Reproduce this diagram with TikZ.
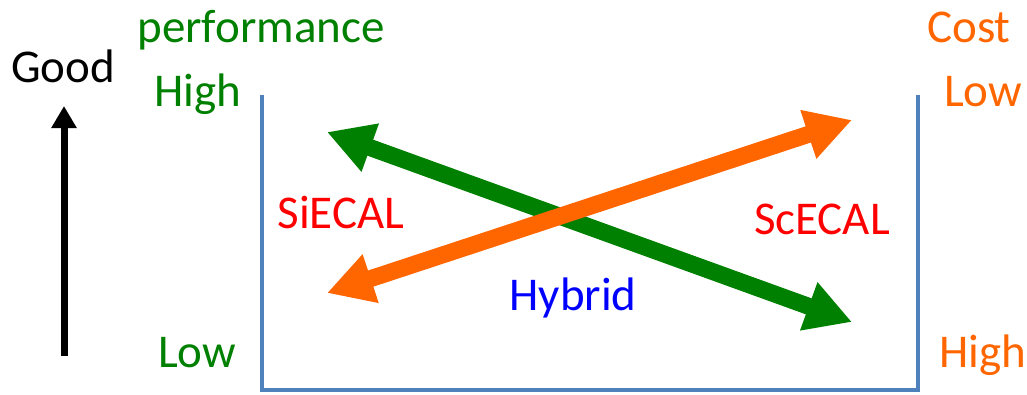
\documentclass[tikz,border=0pt]{standalone}
\usepackage{fontspec}
\setmainfont{Carlito}
\usetikzlibrary{arrows.meta}
\definecolor{pgreen}{RGB}{0,128,0}
\definecolor{porange}{RGB}{255,102,0}
\definecolor{pblue}{RGB}{79,129,189}
\definecolor{pred}{RGB}{255,0,0}
\definecolor{tblue}{RGB}{0,0,255}
\begin{document}
\begin{tikzpicture}[x=1pt,y=-1pt,
  lbl/.style={inner sep=0pt,font=\fontsize{47}{50}\selectfont},
  bigarrow/.style={line width=17pt,{Triangle[width=48pt,length=46pt]}-{Triangle[width=48pt,length=46pt]}},
  frame/.style={draw=pblue,line width=4.5pt}]
\useasboundingbox (0,0) rectangle (1027,394);
% labels
\node[lbl,anchor=base] (good) at (63,82) {Good};
\node[lbl,anchor=base,text=pgreen] (perf) at (261,42) {performance};
\node[lbl,anchor=base,text=pgreen] (hiL) at (198,106) {High};
\node[lbl,anchor=base,text=pgreen] (loL) at (197,367) {Low};
\node[lbl,anchor=base,text=porange] (cost) at (969,42) {Cost};
\node[lbl,anchor=base,text=porange] (loR) at (983,106) {Low};
\node[lbl,anchor=base,text=porange] (hiR) at (983,367) {High};
\node[lbl,anchor=base,text=pred] (si) at (341,228) {SiECAL};
\node[lbl,anchor=base,text=pred] (sc) at (822,234) {ScECAL};
\node[lbl,anchor=base,text=tblue] (hy) at (573,310) {Hybrid};
% good arrow
\coordinate (gb) at (64,356);
\coordinate (gt) at (64,106);
\draw[line width=7pt,-{Triangle[width=24pt,length=22pt]}] (gb) -- (gt);
% frame
\coordinate (f1) at (262,95);
\coordinate (f2) at (262,390);
\coordinate (f3) at (918,390);
\coordinate (f4) at (918,95);
\draw[frame] (f1) -- (f2) -- (f3) -- (f4);
% big arrows
\coordinate (ga) at (327,132);
\coordinate (gz) at (852,322);
\coordinate (oa) at (327,293);
\coordinate (oz) at (852,120);
\draw[bigarrow,draw=pgreen,fill=pgreen] (ga) -- (gz);
\draw[bigarrow,draw=porange,fill=porange] (oa) -- (oz);
\end{tikzpicture}
\end{document}
